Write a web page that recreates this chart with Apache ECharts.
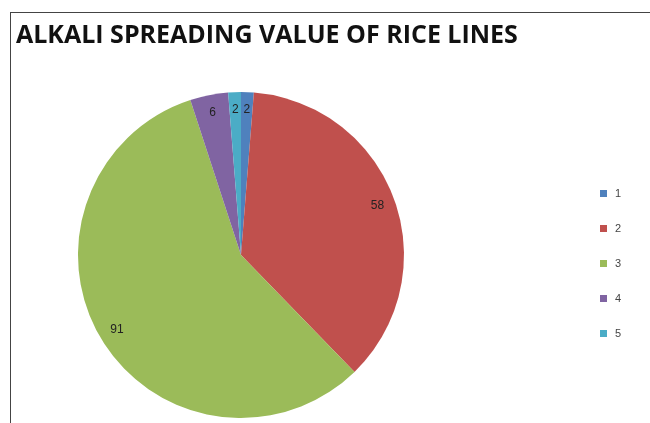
<!DOCTYPE html>
<html>
<head>
<meta charset="utf-8">
<script src="https://cdn.jsdelivr.net/npm/echarts@6/dist/echarts.min.js"></script>
<style>
  html, body { margin: 0; padding: 0; background: #fff; }
  #main { width: 650px; height: 423px; }
</style>
</head>
<body>
<div id="main"></div>
<script>
var categories = ['1', '2', '3', '4', '5'];
var values = [2, 58, 91, 6, 2];
var colors = ['#4F81BD', '#C0504D', '#9BBB59', '#8064A2', '#4BACC6'];

var pieData = categories.map(function (c, i) {
    return { name: c, value: values[i], itemStyle: { color: colors[i] } };
});

var myChart = echarts.init(document.getElementById('main'));
var option = {
    animation: false,
    title: {
        text: 'ALKALI SPREADING VALUE OF RICE LINES',
        left: 11,
        top: 18,
        textStyle: {
            fontFamily: 'Open Sans',
            fontWeight: 'bold',
            fontSize: 25,
            color: '#111'
        }
    },
    graphic: [
        { type: 'line', shape: { x1: 10.5, y1: 12, x2: 10.5, y2: 423 }, style: { stroke: '#444', lineWidth: 1 } },
        { type: 'line', shape: { x1: 10, y1: 12.5, x2: 650, y2: 12.5 }, style: { stroke: '#444', lineWidth: 1 } }
    ],
    legend: {
        data: categories,
        orient: 'vertical',
        left: 595,
        top: 183,
        itemWidth: 7,
        itemHeight: 7,
        itemGap: 24,
        icon: 'rect',
        textStyle: { fontSize: 11, color: '#444', fontFamily: 'Liberation Sans', padding: [0, 0, 0, 3] }
    },
    series: [
        {
            type: 'pie',
            center: [241, 255],
            radius: [0, 163],
            startAngle: 90,
            clockwise: true,
            silent: true,
            label: { show: false },
            labelLine: { show: false },
            data: pieData
        },
        {
            // transparent ring to place value labels near the rim
            type: 'pie',
            center: [241, 255],
            radius: [121, 163],
            startAngle: 90,
            clockwise: true,
            silent: true,
            itemStyle: { color: 'rgba(0,0,0,0)' },
            label: {
                show: true,
                position: 'inside',
                formatter: '{c}',
                fontSize: 12,
                color: '#222',
                fontFamily: 'Liberation Sans'
            },
            labelLine: { show: false },
            data: categories.map(function (c, i) { return { name: c, value: values[i] }; })
        }
    ]
};
myChart.setOption(option, true);

window.onresize = function () {
    myChart.resize();
};
</script>
</body>
</html>
